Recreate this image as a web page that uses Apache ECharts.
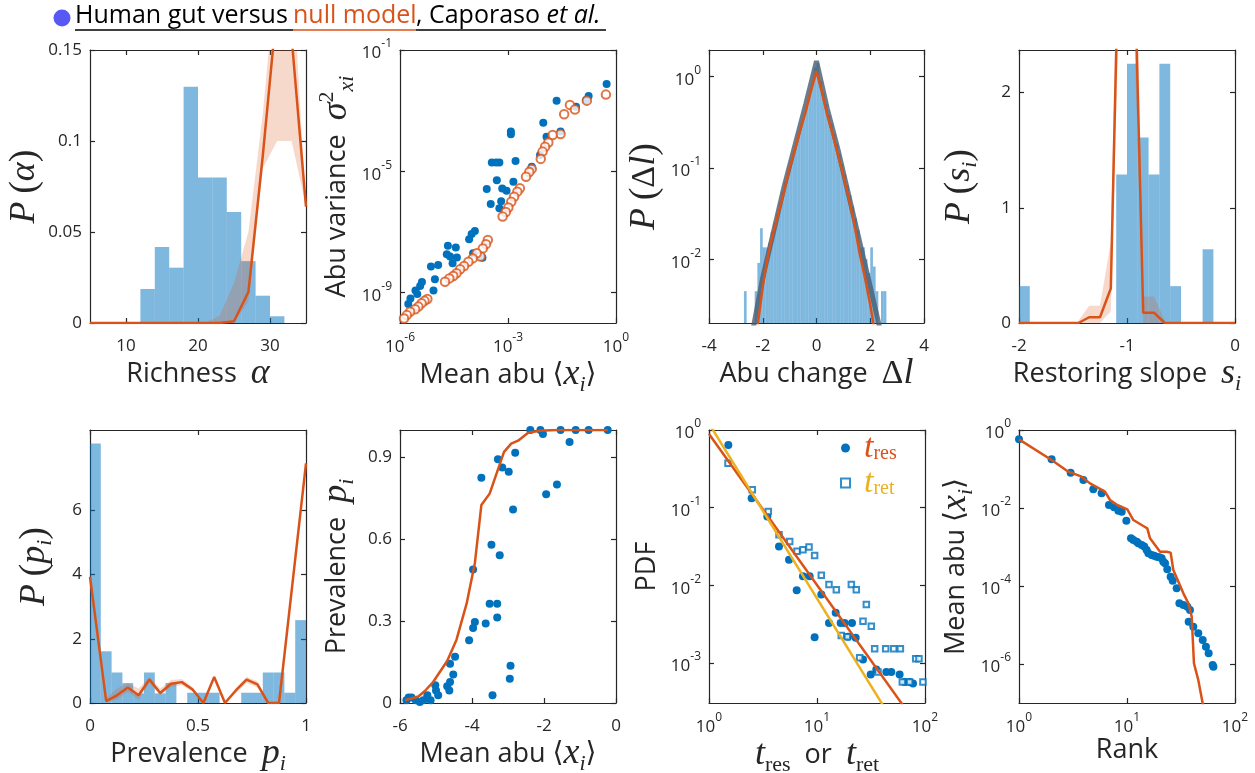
<!DOCTYPE html>
<html>
<head>
<meta charset="utf-8">
<script src="https://cdn.jsdelivr.net/npm/echarts@6.0.0/dist/echarts.min.js"></script>
<style>
  html, body { margin: 0; background: #fff; }
  #chart { width: 1255px; height: 773px; }
</style>
</head>
<body>
<div id="chart"></div>
<script>
// ---------------- data ----------------
// richness histogram + null model
const richEdges = [12, 14, 16, 18, 20, 22, 24, 26, 28, 30, 32];
const richHist = [0.0187, 0.0418, 0.0304, 0.1298, 0.08, 0.08, 0.061, 0.034, 0.015, 0.0037];
const richNullX = [5, 7, 9, 11, 13, 15, 17, 19, 21, 23, 25, 27, 29, 31, 33, 35];
const richNullY = [0, 0, 0, 0, 0, 0, 0, 0, 0, 0, 0.001, 0.017, 0.092, 0.175, 0.157, 0.064];
const richBandX = [21, 23, 25, 27, 29, 31, 33, 35];
const richBandHi = [0, 0.004, 0.022, 0.05, 0.115, 0.2, 0.2, 0.064];
const richBandLo = [0, 0, 0, 0.012, 0.085, 0.1, 0.1, 0.064];

// abundance variance vs mean abundance (log10 of both axes)
const varData = [[-0.26,-2.12],[-0.76,-2.52],[-0.83,-2.65],[-1.11,-2.87],[-1.65,-2.67],[-2.02,-3.40],[-1.54,-3.69],[-1.93,-3.86],[-2.92,-3.78],[-2.92,-3.69],[-2.11,-4.46],[-2.34,-4.85],[-2.79,-4.66],[-3.45,-4.71],[-3.33,-4.71],[-3.24,-4.71],[-3.31,-5.29],[-2.85,-5.34],[-3.59,-5.58],[-3.16,-5.57],[-3.04,-5.64],[-3.48,-6.08],[-3.19,-5.99],[-3.24,-6.22],[-3.92,-6.97],[-4.01,-7.07],[-4.08,-7.24],[-4.67,-7.45],[-4.45,-7.51],[-4.70,-7.73],[-4.61,-7.81],[-4.42,-7.84],[-3.97,-7.70],[-3.71,-7.85],[-5.14,-8.14],[-4.94,-8.09],[-5.03,-8.56],[-5.39,-8.65],[-5.44,-8.78],[-5.57,-8.93],[-5.07,-8.93],[-5.52,-9.04],[-5.71,-9.19],[-5.77,-9.37],[-4.54,-8.03]];
const varNull = [[-0.28,-2.47],[-0.81,-2.67],[-1.28,-2.81],[-1.14,-2.96],[-1.44,-3.12],[-1.54,-3.77],[-1.76,-3.80],[-1.88,-4.05],[-1.97,-4.19],[-2.04,-4.35],[-2.09,-4.59],[-2.34,-4.92],[-2.41,-5.02],[-2.50,-5.18],[-2.67,-5.56],[-2.74,-5.67],[-2.83,-5.84],[-2.91,-6.00],[-2.99,-6.19],[-3.06,-6.34],[-3.15,-6.49],[-3.56,-7.26],[-3.61,-7.40],[-3.70,-7.54],[-3.76,-7.81],[-3.87,-7.70],[-3.98,-7.87],[-4.10,-7.98],[-4.22,-8.12],[-4.33,-8.23],[-4.43,-8.36],[-4.52,-8.45],[-4.63,-8.53],[-4.75,-8.64],[-5.24,-9.21],[-5.32,-9.27],[-5.40,-9.35],[-5.49,-9.46],[-5.58,-9.55],[-5.72,-9.63],[-5.81,-9.74],[-5.89,-9.85]];

// abundance change histogram (log10 heights, bins of 0.1 from -2.7)
const changeStart = -2.7, changeWidth = 0.1;
const changeHist = [-2.35, null, null, null, -2.35, -2.04, -1.66, -1.87, -1.87, -1.82,
  -1.7, -1.6, -1.5, -1.38, -1.26, -1.15, -1.05, -0.94, -0.84, -0.73,
  -0.63, -0.52, -0.42, -0.32, -0.2, -0.08, 0.1, 0.15, -0.05, -0.18,
  -0.3, -0.42, -0.52, -0.63, -0.74, -0.85, -0.96, -1.07, -1.19, -1.3,
  -1.42, -1.55, -1.68, -1.87, -1.87, -2.0, -2.15, -1.87, -2.08, -2.35,
  null, -2.35, -2.35, null];
const changeNullX = [-2.2, -2.0, -1.8, -1.6, -1.4, -1.2, -1.0, -0.8, -0.6, -0.4, -0.2, 0, 0.2, 0.4, 0.6, 0.8, 1.0, 1.2, 1.4, 1.6, 1.8, 2.0, 2.2];
const changeNullY = [-2.75, -2.3, -1.95, -1.7, -1.48, -1.25, -1.0, -0.8, -0.58, -0.38, -0.15, 0.06, -0.17, -0.42, -0.63, -0.86, -1.08, -1.33, -1.6, -1.93, -2.2, -2.5, -2.85];
const changeFitX = [-2.35, -2.0, -1.6, -1.2, -0.8, -0.4, 0, 0.4, 0.8, 1.2, 1.6, 2.0, 2.35];
const changeFitY = [-2.75, -2.2, -1.7, -1.2, -0.75, -0.3, 0.17, -0.35, -0.8, -1.3, -1.8, -2.3, -2.75];

// restoring slope histogram + null model
const slopeEdges = [-2, -1.9, -1.8, -1.7, -1.6, -1.5, -1.4, -1.3, -1.2, -1.1, -1.0, -0.9, -0.8, -0.7, -0.6, -0.5, -0.4, -0.3, -0.2, -0.1, 0];
const slopeHist = [0.32, 0, 0, 0, 0, 0, 0, 0, 0, 1.29, 2.25, 1.61, 1.29, 2.25, 0.32, 0, 0, 0.64, 0, 0];
const slopeNullX = [-2, -1.45, -1.35, -1.25, -1.15, -1.05, -0.95, -0.85, -0.75, -0.65, 0];
const slopeNullY = [0, 0, 0.05, 0.05, 0.3, 4.4, 3.9, 0.09, 0.09, 0, 0];
const slopeBandX = [-1.45, -1.35, -1.25, -1.15, -1.05, -0.95, -0.85, -0.75, -0.65];
const slopeBandHi = [0.02, 0.15, 0.15, 0.7, 5, 5, 0.23, 0.23, 0.02];
const slopeBandLo = [0, 0, 0, 0.1, 3.5, 3, 0, 0, 0];

// prevalence histogram + null model
const prevEdges = [0, 0.05, 0.1, 0.15, 0.2, 0.25, 0.3, 0.35, 0.4, 0.45, 0.5, 0.55, 0.6, 0.65, 0.7, 0.75, 0.8, 0.85, 0.9, 0.95, 1];
const prevHist = [8.08, 1.61, 0.95, 0.62, 0.3, 0.95, 0.3, 0.62, 0, 0.32, 0.32, 0.32, 0, 0, 0.32, 0.32, 0.95, 0.95, 0.32, 2.58];
const prevNullX = [0, 0.075, 0.125, 0.175, 0.225, 0.275, 0.325, 0.375, 0.425, 0.475, 0.525, 0.575, 0.625, 0.675, 0.725, 0.775, 0.825, 0.875, 1.0];
const prevNullY = [3.93, 0.06, 0.24, 0.48, 0.24, 0.73, 0.31, 0.6, 0.65, 0.42, 0, 0.81, 0, 0.39, 0.73, 0.58, 0, 0, 7.46];
const prevBandHi = [3.95, 0.15, 0.45, 0.62, 0.45, 0.82, 0.45, 0.72, 0.75, 0.5, 0.05, 0.85, 0.05, 0.45, 0.82, 0.68, 0.05, 0.05, 7.5];
const prevBandLo = [3.9, 0.02, 0.1, 0.35, 0.1, 0.62, 0.25, 0.5, 0.55, 0.35, 0, 0.75, 0, 0.3, 0.62, 0.48, 0, 0, 7.4];

// prevalence vs mean abundance (x is log10)
const occData = [[-2.38,1.0],[-2.10,1.0],[-2.03,0.985],[-1.54,1.0],[-1.12,1.0],[-0.76,1.0],[-0.23,1.0],[-1.29,0.956],[-1.64,0.80],[-1.94,0.765],[-2.80,0.917],[-2.86,0.709],[-3.28,0.893],[-3.16,0.863],[-2.98,0.847],[-3.74,0.825],[-3.97,0.489],[-3.46,0.58],[-3.23,0.541],[-3.51,0.364],[-3.30,0.364],[-3.30,0.313],[-3.62,0.291],[-3.92,0.297],[-3.97,0.275],[-4.08,0.23],[-4.47,0.169],[-4.61,0.144],[-4.52,0.104],[-4.61,0.077],[-4.69,0.061],[-4.63,0.046],[-2.93,0.136],[-2.95,0.089],[-3.43,0.028],[-5.02,0.065],[-5.0,0.046],[-4.94,0.028],[-5.24,0.028],[-5.15,0.01],[-5.35,0.01],[-5.56,0.01],[-5.76,0.02],[-5.68,0.02],[-5.82,0.01],[-5.45,0.004]];
const occNullX = [-5.86, -5.49, -5.31, -5.08, -4.69, -4.43, -4.15, -3.92, -3.74, -3.51, -3.11, -2.91, -2.72, -2.44, -2.12, -1.66, -0.23];
const occNullY = [0.01, 0.024, 0.044, 0.077, 0.154, 0.232, 0.364, 0.513, 0.725, 0.767, 0.92, 0.95, 0.961, 0.99, 0.997, 1.0, 1.0];

// residence / return times (log10 of both axes)
const resData = [[0.179,-0.193],[0.395,-0.878],[0.540,-1.113],[0.648,-1.499],[0.741,-1.670],[0.812,-2.064],[0.870,-1.884],[0.932,-1.884],[0.978,-2.668],[1.040,-2.12],[1.111,-2.484],[1.173,-2.355],[1.219,-2.484],[1.256,-2.484],[1.287,-2.664],[1.324,-2.484],[1.358,-2.677],[1.426,-2.955],[1.497,-3.148],[1.549,-3.084],[1.642,-3.118],[1.688,-3.118],[1.765,-3.148],[1.812,-3.246],[1.858,-3.246],[1.889,-3.263]];
const retData = [[0.176,-0.428],[0.401,-0.771],[0.549,-1.049],[0.648,-1.349],[0.747,-1.435],[0.815,-1.563],[0.870,-1.542],[0.926,-1.508],[0.978,-1.615],[1.040,-1.872],[1.111,-1.991],[1.179,-2.056],[1.318,-1.991],[1.364,-2.056],[1.457,-2.248],[1.426,-2.463],[1.503,-2.527],[1.225,-2.647],[1.281,-2.664],[1.395,-2.934],[1.534,-2.818],[1.636,-2.818],[1.710,-2.818],[1.772,-2.818],[1.565,-3.118],[1.914,-2.946],[1.944,-2.946],[1.790,-3.246],[1.858,-3.246],[1.981,-3.246]];
const resFit = [[1, 0.89], [62, 2.9e-4]];
const retFit = [[1, 1.21], [41.7, 2.72e-4]];

// rank abundance (log10 of both axes)
const rankData = [[0,-0.239],[0.302,-0.752],[0.478,-1.094],[0.596,-1.282],[0.688,-1.521],[0.765,-1.624],[0.833,-1.923],[0.88,-1.983],[0.92,-2.068],[0.951,-2.094],[0.994,-2.325],[1.037,-2.778],[1.059,-2.821],[1.09,-2.863],[1.105,-2.906],[1.136,-2.949],[1.16,-2.99],[1.182,-3.077],[1.198,-3.162],[1.228,-3.205],[1.25,-3.222],[1.275,-3.248],[1.299,-3.265],[1.321,-3.29],[1.336,-3.376],[1.352,-3.419],[1.373,-3.573],[1.404,-3.761],[1.423,-3.863],[1.46,-4.06],[1.485,-4.444],[1.522,-4.487],[1.559,-4.53],[1.583,-4.615],[1.571,-4.915],[1.614,-5.043],[1.66,-5.214],[1.701,-5.385],[1.731,-5.556],[1.756,-5.726],[1.793,-6.026],[1.8,-6.07]];
const rankNull = [[0,-0.239],[0.302,-0.769],[0.457,-1.068],[0.58,-1.197],[0.657,-1.368],[0.796,-1.581],[0.843,-1.795],[0.91,-1.923],[1.003,-2.034],[1.059,-2.308],[1.151,-2.462],[1.188,-2.521],[1.213,-2.778],[1.306,-3.12],[1.367,-3.12],[1.404,-3.145],[1.429,-3.59],[1.522,-4.188],[1.568,-4.444],[1.599,-4.786],[1.62,-5.983],[1.66,-6.41],[1.707,-7.1]];

// ---------------- styles ----------------
const INK = '#262626';
const BLUE = '#0072BD', ORANGE = '#D95319', YELLOW = '#EDB120';
const HIST = 'rgba(0,114,189,0.5)', BAND = 'rgba(217,83,25,0.22)';
const SANS = '"Open Sans", sans-serif';
const SERIF = '"Liberation Serif", serif';

const gridRects = [
  [90, 50, 216, 273], [400, 50, 216, 273], [709, 50, 215, 273], [1019, 50, 216, 273],
  [90, 430, 216, 273], [400, 430, 216, 273], [709, 430, 216, 273], [1019, 430, 216, 273]
];

const nameRich = {
  s: { fontFamily: SANS, fontSize: 27, color: INK },
  m: { fontFamily: SERIF, fontStyle: 'italic', fontSize: 36, lineHeight: 42, color: INK },
  u: { fontFamily: SERIF, fontSize: 34, color: INK },
  p: { fontFamily: SERIF, fontSize: 38, color: INK },
  a: { fontFamily: '"DejaVu Sans"', fontSize: 28, color: INK },
  i: { fontFamily: SERIF, fontStyle: 'italic', fontSize: 22, color: INK, verticalAlign: 'bottom' },
  r: { fontFamily: SERIF, fontSize: 22, color: INK, verticalAlign: 'bottom' },
  e: { fontFamily: SERIF, fontSize: 22, color: INK, verticalAlign: 'top' }
};

const logRich = {
  b: { fontFamily: SANS, fontSize: 17, color: INK, padding: [7, 0, 0, 0] },
  e: { fontFamily: SANS, fontSize: 12, color: INK, verticalAlign: 'top' }
};

// axis settings per panel: ranges, tick values, names
const panels = [
  { x: { min: 5, max: 35, ticks: [10, 20, 30], name: '{s|Richness  }{m|α}', gap: 30 },
    y: { min: 0, max: 0.15, ticks: [0, 0.05, 0.1, 0.15], name: '{m|P}{p|\u2009(}{m|α}{p|)}', gap: 44 } },
  { x: { log: true, min: 1e-6, max: 1, ticks: [1e-6, 1e-3, 1], name: '{s|Mean abu }{a|⟨}{m|x}{i|i}{a|⟩}', gap: 28 },
    y: { log: true, min: 1e-10, max: 1e-1, ticks: [1e-9, 1e-5, 1e-1], name: '{s|Abu variance  }{m|σ}{e|2}{i|xi}', gap: 42 } },
  { x: { min: -4, max: 4, ticks: [-4, -2, 0, 2, 4], name: '{s|Abu change  }{u|Δ}{m|l}', gap: 30 },
    y: { log: true, min: 0.002, max: 1.96, ticks: [0.01, 0.1, 1], name: '{m|P}{p|\u2009(}{u|Δ}{m|l}{p|)}', gap: 43 } },
  { x: { min: -2, max: 0, ticks: [-2, -1, 0], name: '{s|Restoring slope  }{m|s}{i|i}', gap: 30 },
    y: { min: 0, max: 2.37, ticks: [0, 1, 2], name: '{m|P}{p|\u2009(}{m|s}{i|i}{p|)}', gap: 38 } },
  { x: { min: 0, max: 1, ticks: [0, 0.5, 1], name: '{s|Prevalence  }{m|p}{i|i}', gap: 30 },
    y: { min: 0, max: 8.5, ticks: [0, 2, 4, 6], name: '{m|P}{p|\u2009(}{m|p}{i|i}{p|)}', gap: 34 } },
  { x: { min: -6, max: 0, ticks: [-6, -4, -2, 0], name: '{s|Mean abu }{a|⟨}{m|x}{i|i}{a|⟩}', gap: 30 },
    y: { min: 0, max: 1.0, ticks: [0, 0.3, 0.6, 0.9], name: '{s|Prevalence  }{m|p}{i|i}', gap: 42 } },
  { x: { log: true, min: 1, max: 100, ticks: [1, 10, 100], name: '{m|t}{r|res}{s|  or  }{m|t}{r|ret}', gap: 28 },
    y: { log: true, min: 3.05e-4, max: 1, ticks: [1e-3, 1e-2, 1e-1, 1], name: '{s|PDF}', gap: 48 } },
  { x: { log: true, min: 1, max: 100, ticks: [1, 10, 100], name: '{s|Rank}', gap: 28 },
    y: { log: true, min: 1e-7, max: 1, ticks: [1e-6, 1e-4, 1e-2, 1], name: '{s|Mean abu }{a|⟨}{m|x}{i|i}{a|⟩}', gap: 42 } }
];

function linFmt(v) { return String(+(+v).toFixed(3)); }
function logFmt(v) { return '{b|10}{e|' + Math.round(Math.log10(v)) + '}'; }

function buildAxes(dim, g, spec) {
  const base = {
    gridIndex: g,
    type: spec.log ? 'log' : 'value',
    logBase: 10,
    min: spec.min,
    max: spec.max,
    axisLine: { show: true, onZero: false, lineStyle: { color: INK, width: 1.2 } },
    axisTick: { show: true, inside: true, length: 5, customValues: spec.ticks, lineStyle: { color: INK, width: 1.2 } },
    splitLine: { show: false },
    minorTick: { show: false }
  };
  const main = Object.assign({}, base, {
    position: dim === 'x' ? 'bottom' : 'left',
    axisLabel: {
      show: true,
      customValues: spec.ticks,
      formatter: spec.log ? logFmt : linFmt,
      rich: logRich,
      color: INK,
      fontSize: 17,
      fontFamily: SANS,
      margin: dim === 'x' ? (spec.log ? 9 : 15) : 8,
      hideOverlap: false,
      showMinLabel: true,
      showMaxLabel: true
    },
    name: spec.name,
    nameLocation: 'middle',
    nameGap: spec.gap,
    nameTextStyle: { rich: nameRich, color: INK }
  });
  const mirror = Object.assign({}, base, {
    position: dim === 'x' ? 'top' : 'right',
    axisLabel: { show: false }
  });
  return [main, mirror];
}

const xAxes = [], yAxes = [];
panels.forEach((p, g) => {
  xAxes.push(...buildAxes('x', g, p.x));
  yAxes.push(...buildAxes('y', g, p.y));
});

// ---------------- series helpers ----------------
function pow10(p) { return [Math.pow(10, p[0]), Math.pow(10, p[1])]; }
function pow10y(p) { return [p[0], Math.pow(10, p[1])]; }
function zip(xs, ys) { return xs.map((x, k) => [x, ys[k]]); }

function histSeries(g, edges, heights, base) {
  const data = [];
  heights.forEach((h, k) => { if (h) data.push([edges[k], edges[k + 1], h]); });
  return {
    type: 'custom', xAxisIndex: 2 * g, yAxisIndex: 2 * g, clip: true, silent: true,
    encode: { x: [0, 1], y: 2 },
    data: data,
    renderItem: (params, api) => {
      const p0 = api.coord([api.value(0), api.value(2)]);
      const p1 = api.coord([api.value(1), base]);
      return {
        type: 'rect',
        shape: { x: p0[0], y: p0[1], width: p1[0] - p0[0], height: p1[1] - p0[1] },
        style: { fill: HIST }
      };
    }
  };
}

function bandSeries(g, xs, lo, hi) {
  return {
    type: 'custom', xAxisIndex: 2 * g, yAxisIndex: 2 * g, clip: true, silent: true,
    data: [[xs[0], lo[0]]],
    renderItem: (params, api) => {
      const upper = xs.map((x, k) => api.coord([x, hi[k]]));
      const lower = xs.map((x, k) => api.coord([x, lo[k]])).reverse();
      return { type: 'polygon', shape: { points: upper.concat(lower) }, style: { fill: BAND } };
    }
  };
}

function lineSeries(g, data, color, width) {
  return {
    type: 'line', xAxisIndex: 2 * g, yAxisIndex: 2 * g, data: data,
    showSymbol: false, symbol: 'none', clip: true, silent: true,
    lineStyle: { color: color, width: width || 2.5 }
  };
}

function dotSeries(g, data, extra) {
  return Object.assign({
    type: 'scatter', xAxisIndex: 2 * g, yAxisIndex: 2 * g, data: data,
    symbol: 'circle', symbolSize: 8, clip: false, silent: true,
    itemStyle: { color: BLUE, opacity: 1 }
  }, extra || {});
}

// abundance change histogram edges from the bin start and width
const changeEdges = [];
for (let k = 0; k <= changeHist.length; k++) changeEdges.push(+(changeStart + changeWidth * k).toFixed(2));
const changeHeights = changeHist.map(v => (v === null ? null : Math.pow(10, v)));

const series = [
  // panel 1
  histSeries(0, richEdges, richHist, 0),
  bandSeries(0, richBandX, richBandLo, richBandHi),
  lineSeries(0, zip(richNullX, richNullY), ORANGE),
  // panel 2
  dotSeries(1, varData.map(pow10)),
  dotSeries(1, varNull.map(pow10), { symbol: 'emptyCircle', symbolSize: 8.5, itemStyle: { color: ORANGE, borderWidth: 2.6 } }),
  // panel 3
  histSeries(2, changeEdges, changeHeights, 0.002),
  lineSeries(2, zip(changeFitX, changeFitY).map(pow10y), 'rgba(70,92,112,0.8)', 5),
  lineSeries(2, zip(changeNullX, changeNullY).map(pow10y), ORANGE),
  // panel 4
  histSeries(3, slopeEdges, slopeHist, 0),
  bandSeries(3, slopeBandX, slopeBandLo, slopeBandHi),
  lineSeries(3, zip(slopeNullX, slopeNullY), ORANGE),
  // panel 5
  histSeries(4, prevEdges, prevHist, 0),
  bandSeries(4, prevNullX, prevBandLo, prevBandHi),
  lineSeries(4, zip(prevNullX, prevNullY), ORANGE),
  // panel 6
  dotSeries(5, occData),
  lineSeries(5, zip(occNullX, occNullY), ORANGE),
  // panel 7
  dotSeries(6, resData.map(pow10), { name: 'tres' }),
  dotSeries(6, retData.map(pow10), { name: 'tret', symbol: 'emptyRect', symbolSize: 5.5, itemStyle: { color: BLUE, borderWidth: 2.2 } }),
  lineSeries(6, resFit, ORANGE),
  lineSeries(6, retFit, YELLOW),
  // panel 8
  dotSeries(7, rankData.map(pow10)),
  lineSeries(7, rankNull.map(pow10), ORANGE)
];

const chart = echarts.init(document.getElementById('chart'), null, { renderer: 'canvas' });
chart.setOption({
  backgroundColor: '#fff',
  animation: false,
  textStyle: { fontFamily: SANS },
  grid: gridRects.map(r => ({ left: r[0], top: r[1], width: r[2], height: r[3], outerBoundsMode: 'none', containLabel: false })),
  xAxis: xAxes,
  yAxis: yAxes,
  legend: {
    left: 835, top: 426, orient: 'vertical', itemGap: 1, itemWidth: 9, itemHeight: 9,
    selectedMode: false,
    data: ['tres', 'tret'],
    formatter: n => (n === 'tres' ? '{a|t}{b|res}' : '{c|t}{d|ret}'),
    textStyle: {
      padding: [0, 0, 0, 9],
      rich: {
        a: { fontFamily: SERIF, fontStyle: 'italic', fontSize: 34, lineHeight: 32, color: ORANGE },
        b: { fontFamily: SERIF, fontSize: 20, color: ORANGE, verticalAlign: 'bottom' },
        c: { fontFamily: SERIF, fontStyle: 'italic', fontSize: 34, lineHeight: 32, color: YELLOW },
        d: { fontFamily: SERIF, fontSize: 20, color: YELLOW, verticalAlign: 'bottom' }
      }
    }
  },
  graphic: [
    { type: 'circle', shape: { cx: 62, cy: 18, r: 8.5 }, style: { fill: '#5858f5' } },
    { type: 'text', x: 75, y: 16, style: { text: 'Human gut versus', fontFamily: SANS, fontSize: 25, fill: '#000', verticalAlign: 'middle' } },
    { type: 'text', x: 293, y: 16, style: { text: 'null model', fontFamily: SANS, fontSize: 25, fill: ORANGE, verticalAlign: 'middle' } },
    { type: 'text', x: 416, y: 16, style: {
        text: '{n|, Caporaso }{t|et al.}', verticalAlign: 'middle',
        rich: { n: { fontFamily: SANS, fontSize: 25, color: '#000' }, t: { fontFamily: SANS, fontSize: 25, fontStyle: 'italic', color: '#000' } } } },
    { type: 'line', shape: { x1: 75, y1: 30, x2: 293, y2: 30 }, style: { stroke: '#000', lineWidth: 1.5 } },
    { type: 'line', shape: { x1: 293, y1: 30, x2: 416, y2: 30 }, style: { stroke: ORANGE, lineWidth: 1.5 } },
    { type: 'line', shape: { x1: 416, y1: 30, x2: 606, y2: 30 }, style: { stroke: '#000', lineWidth: 1.5 } }
  ],
  series: series
});
</script>
</body>
</html>
